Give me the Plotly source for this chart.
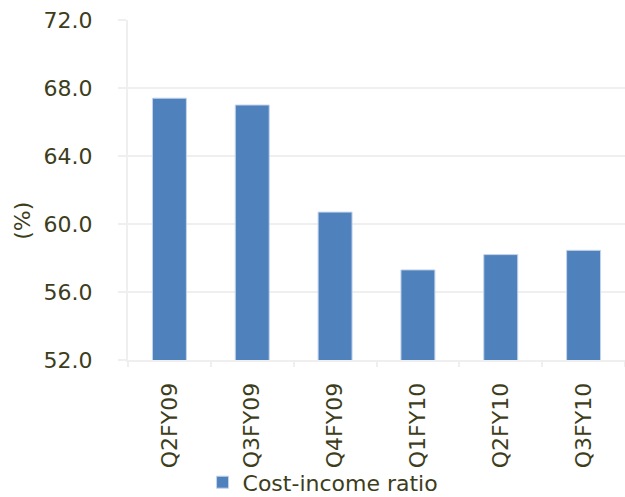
import plotly.graph_objects as go

# Quarterly cost-income ratio (%)
quarters = ["Q2FY09", "Q3FY09", "Q4FY09", "Q1FY10", "Q2FY10", "Q3FY10"]
cost_income = [67.4, 67.0, 60.7, 57.3, 58.2, 58.45]
y_ticks = [52.0, 56.0, 60.0, 64.0, 68.0, 72.0]

TEXT = "#3d3d1c"
GRID = "#efefef"
FONT = "DejaVu Sans"
SIZE = 22

fig = go.Figure()
fig.add_trace(go.Bar(
    x=quarters,
    y=cost_income,
    name="Cost-income ratio",
    marker=dict(color="#4f81bd", line=dict(color="#c4d4ea", width=1)),
))

fig.update_layout(
    width=625,
    height=497,
    margin=dict(l=128, r=0, t=20, b=137, autoexpand=False),
    paper_bgcolor="white",
    plot_bgcolor="white",
    bargap=0.59,
    font=dict(family=FONT, size=SIZE, color=TEXT),
    showlegend=True,
    legend=dict(
        orientation="h",
        x=0.15, xanchor="left",
        y=-0.36, yanchor="middle",
        font=dict(family=FONT, size=SIZE, color=TEXT),
        bgcolor="rgba(0,0,0,0)",
    ),
    xaxis=dict(
        type="category",
        tickangle=-90,
        tickson="boundaries",
        ticks="outside",
        ticklen=5,
        tickcolor=GRID,
        tickwidth=2,
        showline=True,
        linecolor=GRID,
        linewidth=2,
        showgrid=False,
        ticklabelstandoff=12,
        tickfont=dict(family=FONT, size=SIZE, color=TEXT),
    ),
    yaxis=dict(
        range=[52, 72],
        tickvals=y_ticks,
        tickformat=".1f",
        ticks="outside",
        ticklen=8,
        tickcolor=GRID,
        tickwidth=2,
        showline=True,
        linecolor=GRID,
        linewidth=2,
        showgrid=True,
        gridcolor=GRID,
        gridwidth=2,
        zeroline=False,
        ticklabelstandoff=21,
        tickfont=dict(family=FONT, size=SIZE, color=TEXT),
    ),
    annotations=[dict(
        text="(%)",
        xref="paper", yref="paper",
        x=-0.213, y=0.41,
        xanchor="center", yanchor="middle",
        textangle=-90,
        showarrow=False,
        font=dict(family=FONT, size=SIZE, color=TEXT),
    )],
)

fig.write_html("out.html")
